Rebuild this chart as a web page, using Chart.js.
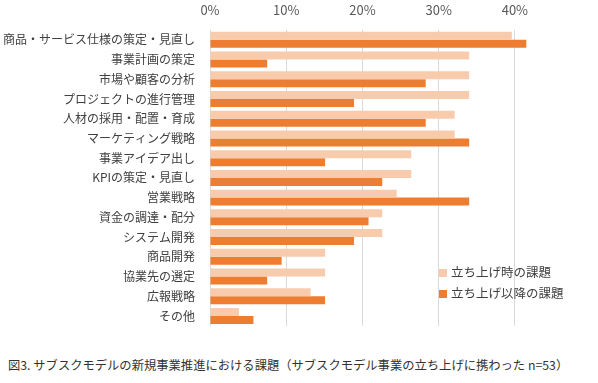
<!DOCTYPE html>
<html>
<head>
<meta charset="utf-8">
<script src="https://cdn.jsdelivr.net/npm/chart.js@4"></script>
<style>
  body { margin: 0; background: #fff; font-family: "Noto Sans CJK JP", sans-serif; }
  .wrap { position: relative; width: 598px; height: 383px; }
  #myChart { position: absolute; left: 0; top: 0; }
  .legend { position: absolute; left: 439px; top: 261px; font-size: 12.5px; color: #404040; }
  .legend div { height: 21px; line-height: 21px; white-space: nowrap; }
  .legend span { display: inline-block; width: 8px; height: 8px; margin-right: 4px; }
  .caption { position: absolute; left: 8px; top: 356px; font-size: 12.3px; color: #333; white-space: nowrap; }
</style>
</head>
<body>
<div class="wrap">
  <canvas id="myChart" width="598" height="340"></canvas>
  <div class="legend" id="legend"></div>
  <div class="caption">図3. サブスクモデルの新規事業推進における課題（サブスクモデル事業の立ち上げに携わった n=53）</div>
</div>
<script>
// 課題の項目
const kadai = ['商品・サービス仕様の策定・見直し', '事業計画の策定', '市場や顧客の分析', 'プロジェクトの進行管理',
  '人材の採用・配置・育成', 'マーケティング戦略', '事業アイデア出し', 'KPIの策定・見直し', '営業戦略',
  '資金の調達・配分', 'システム開発', '商品開発', '協業先の選定', '広報戦略', 'その他'];
// 割合 (%)
const tachiageji = [39.6, 34.0, 34.0, 34.0, 32.1, 32.1, 26.4, 26.4, 24.5, 22.6, 22.6, 15.1, 15.1, 13.2, 3.8];
const tachiageIkou = [41.5, 7.5, 28.3, 18.9, 28.3, 34.0, 15.1, 22.6, 34.0, 20.8, 18.9, 9.4, 7.5, 15.1, 5.7];
const seriesNames = ['立ち上げ時の課題', '立ち上げ以降の課題'];
const seriesColors = ['#F8CBAD', '#ED7D31'];
const xTicks = [0, 10, 20, 30, 40];

var ctx = document.getElementById('myChart').getContext('2d');

var myChart = new Chart(ctx, {
  type: 'bar',
  data: {
    labels: kadai,
    datasets: [
      { label: seriesNames[0], data: tachiageji, backgroundColor: seriesColors[0] },
      { label: seriesNames[1], data: tachiageIkou, backgroundColor: seriesColors[1] }
    ]
  },
  options: {
    indexAxis: 'y',
    responsive: false,
    animation: false,
    layout: { padding: { left: 0, right: 45, top: 0, bottom: 12 } },
    datasets: { bar: { categoryPercentage: 0.81, barPercentage: 1.0 } },
    plugins: { legend: { display: false }, tooltip: { enabled: false } },
    scales: {
      x: {
        position: 'top',
        min: 0,
        max: 45,
        afterBuildTicks: axis => { axis.ticks = xTicks.map(v => ({ value: v })); },
        afterFit: scale => { scale.height = 30; },
        grid: { color: '#d9d9d9', drawTicks: false },
        border: { display: false },
        ticks: { padding: 12, color: '#595959', font: { size: 13, family: 'Noto Sans CJK JP' }, callback: v => v + '%' }
      },
      y: {
        afterFit: scale => { scale.width = 210; },
        grid: { display: false },
        border: { display: false },
        ticks: { padding: 7, color: '#404040', autoSkip: false, font: { size: 12, family: 'Noto Sans CJK JP' } }
      }
    }
  }
});

// 凡例
document.getElementById('legend').innerHTML = seriesNames.map((n, i) =>
  '<div><span style="background:' + seriesColors[i] + '"></span>' + n + '</div>').join('');
</script>
</body>
</html>
